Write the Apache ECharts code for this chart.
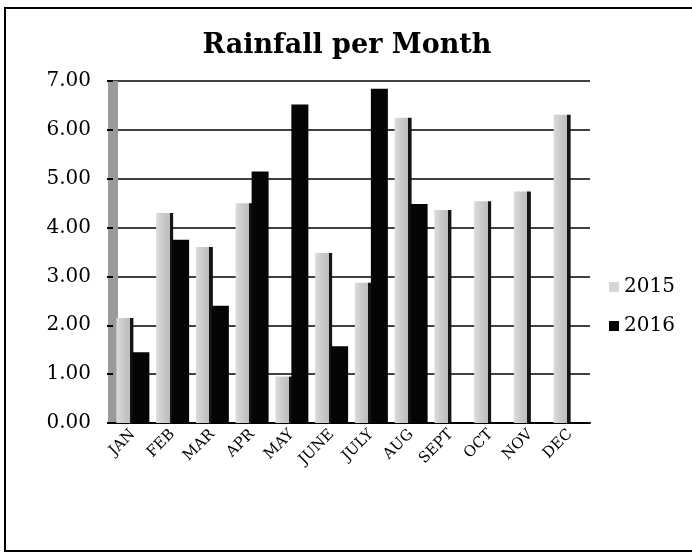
<!DOCTYPE html>
<html>
<head>
<meta charset="utf-8">
<script src="https://cdn.jsdelivr.net/npm/echarts@6/dist/echarts.min.js"></script>
<style>
  html, body { margin: 0; padding: 0; background: #fff; }
  #chart { width: 692px; height: 552px; }
</style>
</head>
<body>
<div id="chart"></div>
<script>
// data
const months = ['JAN', 'FEB', 'MAR', 'APR', 'MAY', 'JUNE', 'JULY', 'AUG', 'SEPT', 'OCT', 'NOV', 'DEC'];
const rain2015 = [2.15, 4.3, 3.6, 4.5, 0.95, 3.48, 2.87, 6.25, 4.36, 4.54, 4.74, 6.31];
const rain2016 = [1.45, 3.75, 2.4, 5.15, 6.52, 1.57, 6.84, 4.48, 0, 0, 0, 0];
const yTicks = [0, 1, 2, 3, 4, 5, 6, 7];

const serif = '"DejaVu Serif", "Liberation Serif", serif';

const chart = echarts.init(document.getElementById('chart'));

// light bar with a dark right edge (the 3D side face)
const lightFill = {
  type: 'linear', x: 0, y: 0, x2: 1, y2: 0,
  colorStops: [
    {offset: 0, color: '#dcdcdc'},
    {offset: 0.5, color: '#c6c6c6'},
    {offset: 0.8, color: '#bdbdbd'},
    {offset: 0.8, color: '#151515'},
    {offset: 1, color: '#151515'}
  ]
};

const option = {
  animation: false,
  backgroundColor: '#fff',
  title: {
    text: 'Rainfall per Month',
    left: 342,
    textAlign: 'center',
    top: 27,
    textStyle: {fontFamily: serif, fontWeight: 'bold', fontSize: 27, color: '#000'}
  },
  legend: {
    orient: 'vertical',
    left: 604,
    top: 272,
    itemWidth: 10,
    itemHeight: 10,
    itemGap: 19,
    icon: 'rect',
    textStyle: {fontFamily: serif, fontSize: 20, color: '#000'},
    data: [
      {name: '2015', itemStyle: {color: '#d6d6d6'}},
      {name: '2016', itemStyle: {color: '#000'}}
    ]
  },
  grid: {left: 113, right: 102, top: 81, bottom: 129},
  xAxis: {
    type: 'category',
    data: months,
    axisLine: {show: true, lineStyle: {color: '#000', width: 2}},
    axisTick: {show: false},
    axisLabel: {
      interval: 0,
      rotate: 45,
      margin: 9,
      fontFamily: serif,
      fontSize: 15,
      color: '#000'
    }
  },
  yAxis: {
    type: 'value',
    min: yTicks[0],
    max: yTicks[yTicks.length - 1],
    interval: 1,
    axisLine: {show: true, lineStyle: {color: '#9a9a9a', width: 10, cap: 'butt'}},
    axisTick: {show: true, length: 6, lineStyle: {color: '#000', width: 2}},
    axisLabel: {
      margin: 22,
      fontFamily: serif,
      fontSize: 20,
      color: '#000',
      formatter: v => v.toFixed(2)
    },
    splitLine: {show: true, lineStyle: {color: '#000', width: 1.5}}
  },
  series: [
    {
      name: '2015',
      type: 'bar',
      data: rain2015,
      barWidth: 17,
      barGap: '-6%',
      itemStyle: {color: lightFill}
    },
    {
      name: '2016',
      type: 'bar',
      data: rain2016,
      barWidth: 17,
      itemStyle: {color: '#050505'}
    }
  ],
  graphic: [
    {
      type: 'rect',
      shape: {x: 5, y: 8, width: 700, height: 543},
      style: {fill: 'none', stroke: '#000', lineWidth: 2}
    }
  ]
};

chart.setOption(option);
</script>
</body>
</html>
